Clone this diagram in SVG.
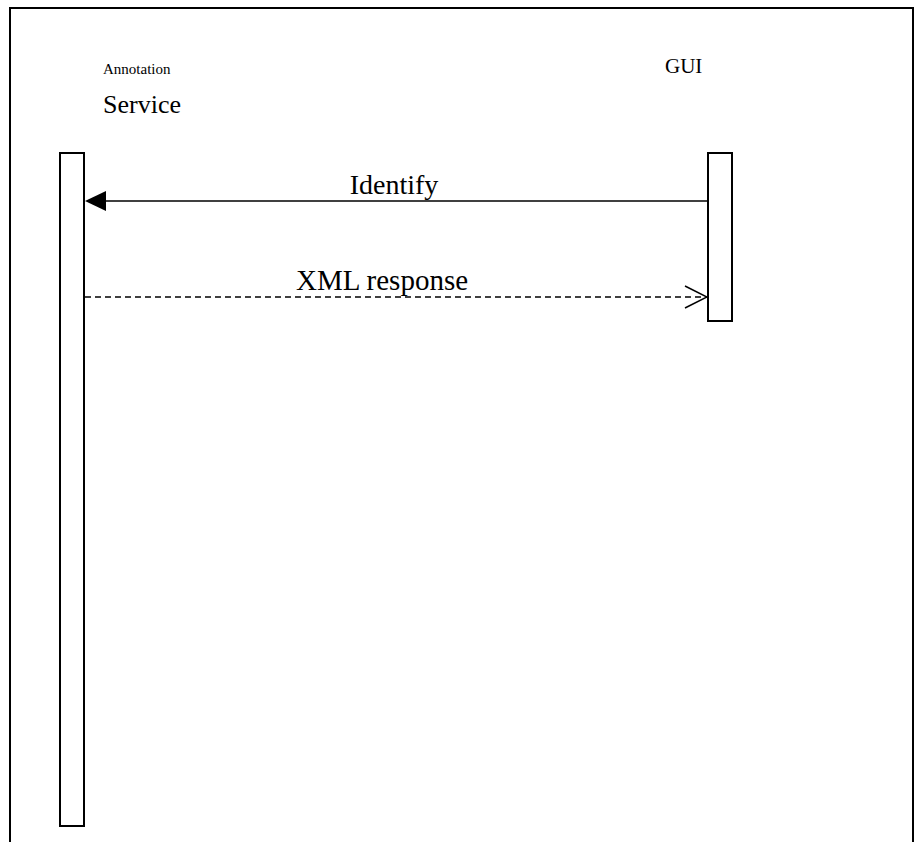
<svg xmlns="http://www.w3.org/2000/svg" width="915" height="842" viewBox="0 0 915 842">
  <style>
    .frame { stroke: #000; stroke-width: 2; fill: none; }
    .bar { fill: #fff; stroke: #000; stroke-width: 2; }
    .msg { stroke: #000; stroke-width: 1.5; fill: none; }
    .dash { stroke-dasharray: 6 4; }
    text { font-family: "Liberation Serif", "Times New Roman", "DejaVu Serif", serif; fill: #000; }
  </style>
  <defs>
    <marker id="openHead" viewBox="0 0 24 24" refX="23" refY="12" markerWidth="24" markerHeight="24" markerUnits="userSpaceOnUse" orient="auto">
      <path d="M1,1 L23,12 L1,23" fill="none" stroke="#000" stroke-width="1.5"/>
    </marker>
  </defs>

  <rect width="915" height="842" fill="#fff"/>

  <!-- outer frame -->
  <path class="frame" d="M10,842 V8 H913 V842"/>

  <!-- lifeline: Annotation Service -->
  <g id="annotation-service">
    <text x="103" y="74" font-size="15">Annotation</text>
    <text x="103" y="113" font-size="26">Service</text>
    <rect class="bar" x="60" y="153" width="24" height="673"/>
  </g>

  <!-- lifeline: GUI -->
  <g id="gui">
    <text x="665" y="73" font-size="21">GUI</text>
    <rect class="bar" x="708" y="153" width="24" height="168"/>
  </g>

  <!-- messages -->
  <g id="connectors">
    <line class="msg" x1="707" y1="201" x2="106" y2="201"/>
    <path d="M85,201 L106,191 L106,211 Z" fill="#000"/>
    <text x="394" y="194" font-size="28" text-anchor="middle">Identify</text>

    <line class="msg dash" x1="85" y1="297" x2="707" y2="297" marker-end="url(#openHead)"/>
    <text x="382" y="290" font-size="29" text-anchor="middle">XML response</text>
  </g>
</svg>
